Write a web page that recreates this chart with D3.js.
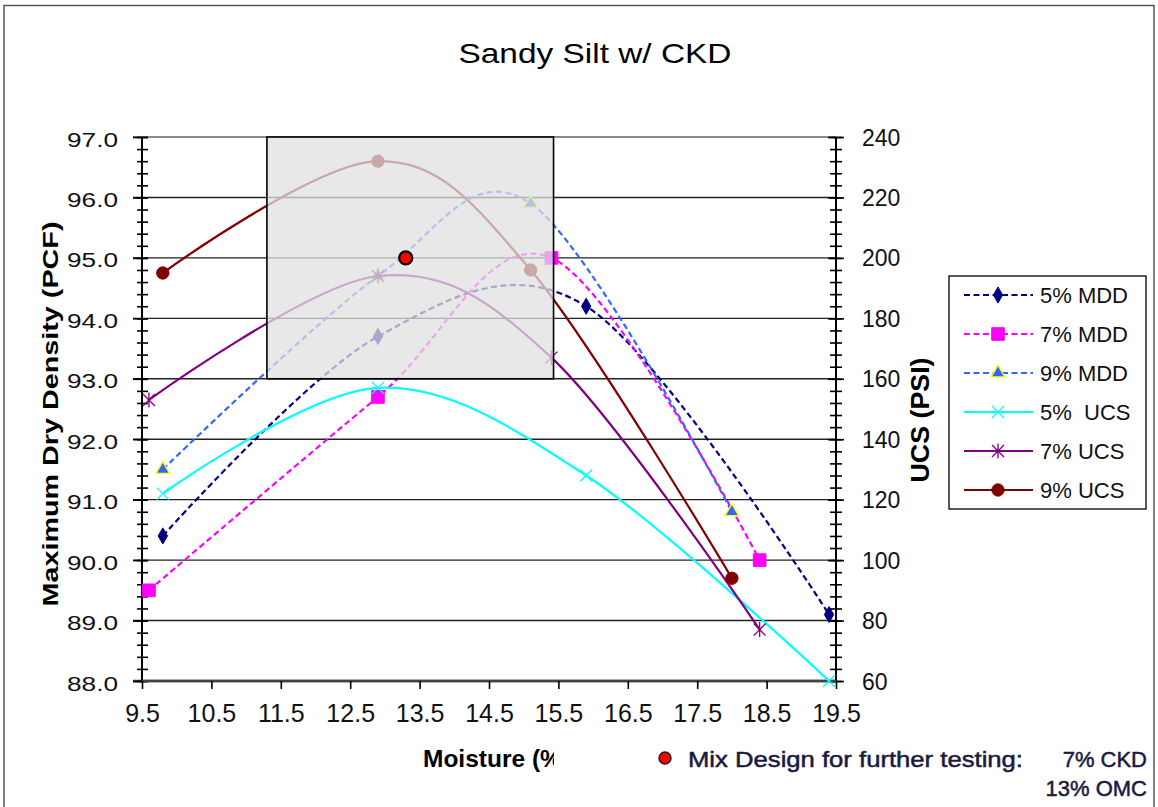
<!DOCTYPE html>
<html>
<head>
<meta charset="utf-8">
<script src="https://cdn.jsdelivr.net/npm/d3@7"></script>
<style>
  html, body { margin: 0; padding: 0; background: #fff; }
  svg { display: block; font-family: "Liberation Sans", Arial, sans-serif; }
</style>
</head>
<body>
<svg id="chart" width="1158" height="807"></svg>
<script>
// ---------------- DATA ----------------
const title = "Sandy Silt w/ CKD";
const seriesNames = ["5% MDD", "7% MDD", "9% MDD", "5%  UCS", "7% UCS", "9% UCS"];
const moisture5 = [9.8, 12.9, 15.9, 19.4];
const moisture7 = [9.6, 12.9, 15.4, 18.4];
const moisture9 = [9.8, 12.9, 15.1, 18.0];
const mdd5 = [90.4, 93.7, 94.2, 89.1];
const mdd7 = [89.5, 92.7, 95.0, 90.0];
const mdd9 = [91.5, 94.7, 95.9, 90.8];
const ucs5 = [122, 157, 128, 60];
const ucs7 = [153, 194, 167, 77];
const ucs9 = [195, 232, 196, 94];
const mixDesign = [13.3, 95.0];
const highlightX = [11.3, 15.43];
const highlightY = [93.0, 97.0];
const xTicks = [9.5, 10.5, 11.5, 12.5, 13.5, 14.5, 15.5, 16.5, 17.5, 18.5, 19.5];
const yLeftTicks = [88, 89, 90, 91, 92, 93, 94, 95, 96, 97];
const yRightTicks = [60, 80, 100, 120, 140, 160, 180, 200, 220, 240];

// ---------------- SETUP ----------------
const svg = d3.select("#chart");
const L = 142, R = 836, T = 137, B = 681;
const x = d3.scaleLinear().domain([9.5, 19.5]).range([L, R]);
const yL = d3.scaleLinear().domain([88, 97]).range([B, T]);
const yR = d3.scaleLinear().domain([60, 240]).range([B, T]);

const defs = svg.append("defs");
defs.append("clipPath").attr("id", "clipMoist").append("rect")
  .attr("x", 400).attr("y", 730).attr("width", 154).attr("height", 60);

// outer frame
svg.append("rect").attr("x", 4).attr("y", 5.5).attr("width", 1150).attr("height", 820)
  .attr("fill", "none").attr("stroke", "#555").attr("stroke-width", 1.5);

// title
svg.append("text").attr("x", 595).attr("y", 63).attr("text-anchor", "middle")
  .attr("font-size", 28).attr("textLength", 273).attr("lengthAdjust", "spacingAndGlyphs")
  .attr("fill", "#000").text(title);

// gridlines
const grid = svg.append("g");
grid.selectAll("line").data(yLeftTicks).join("line")
  .attr("x1", L - 9).attr("x2", R)
  .attr("y1", d => yL(d)).attr("y2", d => yL(d))
  .attr("stroke", d => d === 97 ? "#8a8a8a" : (d === 88 ? "#444" : "#222"))
  .attr("stroke-width", d => d === 97 ? 2 : (d === 88 ? 2.5 : 1.4));

// left axis (major + minor cross ticks)
const minorL = d3.range(88, 97.001, 0.2).map(v => +v.toFixed(1));
const gLminor = svg.append("g").attr("transform", `translate(${L},0)`)
  .call(d3.axisLeft(yL).tickValues(minorL).tickSize(5).tickFormat(""));
gLminor.select(".domain").remove();
gLminor.selectAll(".tick line").attr("x1", 6).attr("stroke", "#000").attr("stroke-width", 1.6);

const gL = svg.append("g").attr("transform", `translate(${L},0)`)
  .call(d3.axisLeft(yL).tickValues(yLeftTicks).tickSize(9).tickPadding(15).tickFormat(d3.format(".1f")));
gL.select(".domain").attr("stroke", "#000").attr("stroke-width", 2).attr("d", `M0,${T}V${B}`);
gL.selectAll(".tick line").attr("x1", 6).attr("stroke", "#000").attr("stroke-width", 1.6);
gL.selectAll(".tick text").attr("font-size", 20).attr("font-family", "Liberation Sans, Arial")
  .attr("fill", "#111").attr("dy", "0.45em")
  .attr("textLength", 51).attr("lengthAdjust", "spacingAndGlyphs");

// right axis
const minorR = d3.range(60, 240.001, 4);
const gRminor = svg.append("g").attr("transform", `translate(${R},0)`)
  .call(d3.axisRight(yR).tickValues(minorR).tickSize(6).tickFormat(""));
gRminor.select(".domain").remove();
gRminor.selectAll(".tick line").attr("x1", -6).attr("stroke", "#000").attr("stroke-width", 1.6);

const gR = svg.append("g").attr("transform", `translate(${R},0)`)
  .call(d3.axisRight(yR).tickValues(yRightTicks).tickSize(8).tickPadding(18));
gR.select(".domain").attr("stroke", "#000").attr("stroke-width", 2).attr("d", `M0,${T}V${B}`);
gR.selectAll(".tick line").attr("x1", -8).attr("stroke", "#000").attr("stroke-width", 1.6);
gR.selectAll(".tick text").attr("font-size", 23).attr("font-family", "Liberation Sans, Arial")
  .attr("fill", "#111").attr("dy", "0.35em");

// bottom axis
const gX = svg.append("g").attr("transform", `translate(0,${B})`)
  .call(d3.axisBottom(x).tickValues(xTicks).tickSize(8).tickPadding(24).tickFormat(d3.format(".1f")));
gX.select(".domain").attr("stroke", "#444").attr("stroke-width", 2.5).attr("d", `M${L},0H${R}`);
gX.selectAll(".tick line").attr("stroke", "#000").attr("stroke-width", 1.6);
gX.selectAll(".tick text").attr("font-size", 25).attr("font-family", "Liberation Sans, Arial")
  .attr("fill", "#111").attr("dy", "0.71em").attr("y", 23);

// axis titles
svg.append("text").attr("transform", "translate(58,414) rotate(-90)")
  .attr("text-anchor", "middle").attr("font-size", 22).attr("font-weight", "bold")
  .attr("textLength", 385).attr("lengthAdjust", "spacingAndGlyphs")
  .text("Maximum Dry Density (PCF)");
svg.append("text").attr("transform", "translate(929,420) rotate(-90)")
  .attr("text-anchor", "middle").attr("font-size", 25).attr("font-weight", "bold")
  .attr("textLength", 125).attr("lengthAdjust", "spacingAndGlyphs")
  .text("UCS (PSI)");

// ---------------- SERIES ----------------
const curve = d3.curveCardinal.tension(0);
const sym = (type, size) => d3.symbol().type(type).size(size)();
const xPath = s => `M${-s},${-s}L${s},${s}M${-s},${s}L${s},${-s}`;
const astPath = s => `M${-s},${-s}L${s},${s}M${-s},${s}L${s},${-s}M0,${-s * 1.25}L0,${s * 1.25}`;

const series = [
  { name: seriesNames[0], xs: moisture5, ys: mdd5, scale: yL, color: "#000080", dash: "6,3.5",
    marker: { d: sym(d3.symbolDiamond, 75), fill: "#000080", stroke: "#000080", sw: 1 } },
  { name: seriesNames[1], xs: moisture7, ys: mdd7, scale: yL, color: "#FF00FF", dash: "6,3.5",
    marker: { d: sym(d3.symbolSquare, 160), fill: "#FF00FF", stroke: "#FF00FF", sw: 1 } },
  { name: seriesNames[2], xs: moisture9, ys: mdd9, scale: yL, color: "#3366FF", dash: "6,3.5",
    marker: { d: sym(d3.symbolTriangle, 80), fill: "#3366FF", stroke: "#FFFF00", sw: 1.3 } },
  { name: seriesNames[3], xs: moisture5, ys: ucs5, scale: yR, color: "#00FFFF", dash: null,
    marker: { d: xPath(6), fill: "none", stroke: "#00FFFF", sw: 1.3 } },
  { name: seriesNames[4], xs: moisture7, ys: ucs7, scale: yR, color: "#800080", dash: null,
    marker: { d: astPath(6), fill: "none", stroke: "#800080", sw: 1.3 } },
  { name: seriesNames[5], xs: moisture9, ys: ucs9, scale: yR, color: "#800000", dash: null,
    marker: { d: sym(d3.symbolCircle, 120), fill: "#800000", stroke: "#800000", sw: 1 } }
];

const gSeries = svg.append("g");
series.forEach(s => {
  const pts = s.xs.map((v, i) => [v, s.ys[i]]);
  const line = d3.line().x(d => x(d[0])).y(d => s.scale(d[1])).curve(curve);
  gSeries.append("path").attr("d", line(pts)).attr("fill", "none")
    .attr("stroke", s.color).attr("stroke-width", 2.2)
    .attr("stroke-dasharray", s.dash);
  gSeries.selectAll(null).data(pts).join("path")
    .attr("transform", d => `translate(${x(d[0])},${s.scale(d[1])})`)
    .attr("d", s.marker.d).attr("fill", s.marker.fill)
    .attr("stroke", s.marker.stroke).attr("stroke-width", s.marker.sw);
});

// highlight box (semi-transparent)
svg.append("rect")
  .attr("x", x(highlightX[0])).attr("y", yL(highlightY[1]))
  .attr("width", x(highlightX[1]) - x(highlightX[0]))
  .attr("height", yL(highlightY[0]) - yL(highlightY[1]))
  .attr("fill", "rgb(224,224,224)").attr("fill-opacity", 0.75)
  .attr("stroke", "#000").attr("stroke-width", 1.6);

// mix design point
svg.append("circle").attr("cx", x(mixDesign[0])).attr("cy", yL(mixDesign[1])).attr("r", 6.5)
  .attr("fill", "#FF0000").attr("stroke", "#000").attr("stroke-width", 2.2);

// ---------------- LEGEND ----------------
const lg = svg.append("g");
lg.append("rect").attr("x", 949).attr("y", 276).attr("width", 197).attr("height", 233)
  .attr("fill", "#fff").attr("stroke", "#000").attr("stroke-width", 1.3);
const rowY = d3.scalePoint().domain(seriesNames).range([295, 490]);
series.forEach(s => {
  const yy = rowY(s.name);
  lg.append("line").attr("x1", 964).attr("x2", 1033).attr("y1", yy).attr("y2", yy)
    .attr("stroke", s.color).attr("stroke-width", 2.2).attr("stroke-dasharray", s.dash);
  lg.append("path").attr("transform", `translate(998,${yy})`).attr("d", s.marker.d)
    .attr("fill", s.marker.fill).attr("stroke", s.marker.stroke).attr("stroke-width", s.marker.sw);
  lg.append("text").attr("x", 1040).attr("y", yy + 8).attr("font-size", 22)
    .attr("fill", "#111").attr("xml:space", "preserve").style("white-space", "pre").text(s.name);
});

// ---------------- BOTTOM NOTES ----------------
svg.append("text").attr("x", 423).attr("y", 767).attr("font-size", 24.5).attr("font-weight", "bold")
  .attr("clip-path", "url(#clipMoist)").text("Moisture (%)");

svg.append("circle").attr("cx", 665).attr("cy", 758).attr("r", 6)
  .attr("fill", "#FF0000").attr("stroke", "#222").attr("stroke-width", 1.5);
const noteStyle = sel => sel.attr("font-size", 22).attr("fill", "#1a1a40")
  .attr("stroke", "#1a1a40").attr("stroke-width", 0.5);
svg.append("text").attr("x", 688).attr("y", 767).call(noteStyle)
  .attr("textLength", 335).attr("lengthAdjust", "spacingAndGlyphs")
  .text("Mix Design for further testing:");
svg.append("text").attr("x", 1147).attr("y", 767).attr("text-anchor", "end").call(noteStyle)
  .text("7% CKD");
svg.append("text").attr("x", 1147).attr("y", 796).attr("text-anchor", "end").call(noteStyle)
  .text("13% OMC");
</script>
</body>
</html>
